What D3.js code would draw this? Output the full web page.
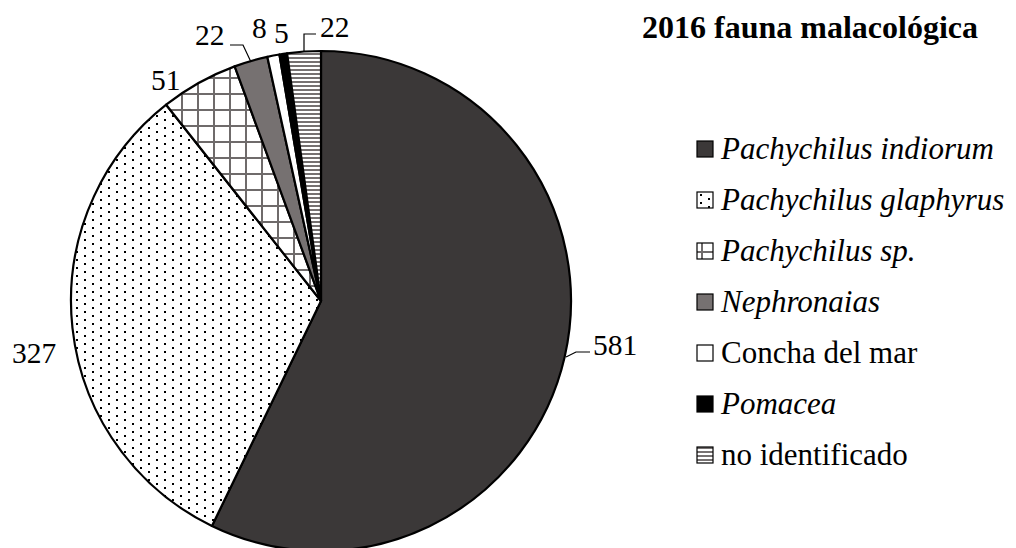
<!DOCTYPE html>
<html>
<head>
<meta charset="utf-8">
<script src="https://cdn.jsdelivr.net/npm/d3@7"></script>
<style>
  html, body { margin: 0; padding: 0; background: #fff; }
  svg { display: block; }
</style>
</head>
<body>
<svg id="chart" width="1016" height="548"></svg>
<script>
// Shell counts, 2016 season
const categories = ["Pachychilus indiorum", "Pachychilus glaphyrus", "Pachychilus sp.", "Nephronaias", "Concha del mar", "Pomacea", "no identificado"];
const counts = [581, 327, 51, 22, 8, 5, 22];
const italicNames = [true, true, true, true, false, true, false];
const fills = ["#3b3838", "url(#dots)", "url(#grid)", "#767171", "#ffffff", "#000000", "url(#stripes)"];
const title = "2016 fauna malacológica";

const FONT = "'Liberation Serif', 'Times New Roman', serif";

const svg = d3.select("#chart");
const defs = svg.append("defs");

// fine dot texture
const dots = defs.append("pattern").attr("id", "dots").attr("patternUnits", "userSpaceOnUse")
  .attr("width", 16).attr("height", 8).attr("x", 0).attr("y", 0);
dots.append("rect").attr("width", 16).attr("height", 8).attr("fill", "#fff");
dots.append("rect").attr("x", 3).attr("y", 2).attr("width", 2).attr("height", 2).attr("fill", "#000");
dots.append("rect").attr("x", 11).attr("y", 6).attr("width", 2).attr("height", 2).attr("fill", "#000");

// open grid texture
const grid = defs.append("pattern").attr("id", "grid").attr("patternUnits", "userSpaceOnUse")
  .attr("width", 16).attr("height", 16).attr("x", 4).attr("y", 0);
grid.append("rect").attr("width", 16).attr("height", 16).attr("fill", "#fff");
grid.append("rect").attr("x", 0).attr("y", 0).attr("width", 2).attr("height", 16).attr("fill", "#6f6b6b");
grid.append("rect").attr("x", 0).attr("y", 0).attr("width", 16).attr("height", 2).attr("fill", "#6f6b6b");

// horizontal stripes
const stripes = defs.append("pattern").attr("id", "stripes").attr("patternUnits", "userSpaceOnUse")
  .attr("width", 4).attr("height", 4);
stripes.append("rect").attr("width", 4).attr("height", 4).attr("fill", "#fff");
stripes.append("rect").attr("y", 0).attr("width", 4).attr("height", 2).attr("fill", "#767171");

const cx = 321, cy = 301, r = 250;

const pie = d3.pie().sort(null).value(d => d)(counts);
const arc = d3.arc().innerRadius(0).outerRadius(r);

const g = svg.append("g").attr("transform", `translate(${cx},${cy})`);
g.selectAll("path.slice").data(pie).join("path")
  .attr("class", "slice")
  .attr("d", arc)
  .attr("fill", (d, i) => fills[i])
  .attr("stroke", "#000")
  .attr("stroke-width", 2.2)
  .attr("stroke-linejoin", "round");

// value labels placed around the rim
const labelPos = [
  { x: 593, y: 355, leader: [[566, 357], [576, 352], [590, 352]] },
  { x: 12, y: 363, leader: null },
  { x: 151, y: 90, leader: null },
  { x: 195, y: 45, leader: [[230, 45], [243, 45], [251, 62]] },
  { x: 252, y: 38, leader: null },
  { x: 274, y: 43, leader: null },
  { x: 320, y: 37, leader: [[304, 52], [304, 34], [316, 34]] }
];

const line = d3.line();
labelPos.forEach((p, i) => {
  if (p.leader) {
    svg.append("path").attr("d", line(p.leader)).attr("fill", "none")
      .attr("stroke", "#000").attr("stroke-width", 1.2);
  }
  svg.append("text").attr("x", p.x).attr("y", p.y)
    .attr("font-family", FONT)
    .attr("font-size", 29.5)
    .text(counts[i]);
});

// title
svg.append("text").attr("x", 810).attr("y", 38).attr("text-anchor", "middle")
  .attr("font-family", FONT)
  .attr("font-size", 32).attr("font-weight", "bold").text(title);

// legend
const legendY = d3.scalePoint().domain(categories).range([149, 455]);
const leg = svg.append("g").selectAll("g").data(categories).join("g")
  .attr("transform", d => `translate(697,${legendY(d)})`);
leg.append("rect").attr("x", 0).attr("y", -8).attr("width", 16).attr("height", 16)
  .attr("fill", (d, i) => fills[i]).attr("stroke", "#000").attr("stroke-width", 1.2);
leg.append("text").attr("x", 24).attr("y", 9.5)
  .attr("font-family", FONT)
  .attr("font-size", 31)
  .attr("font-style", (d, i) => italicNames[i] ? "italic" : "normal")
  .text(d => d);
</script>
</body>
</html>
